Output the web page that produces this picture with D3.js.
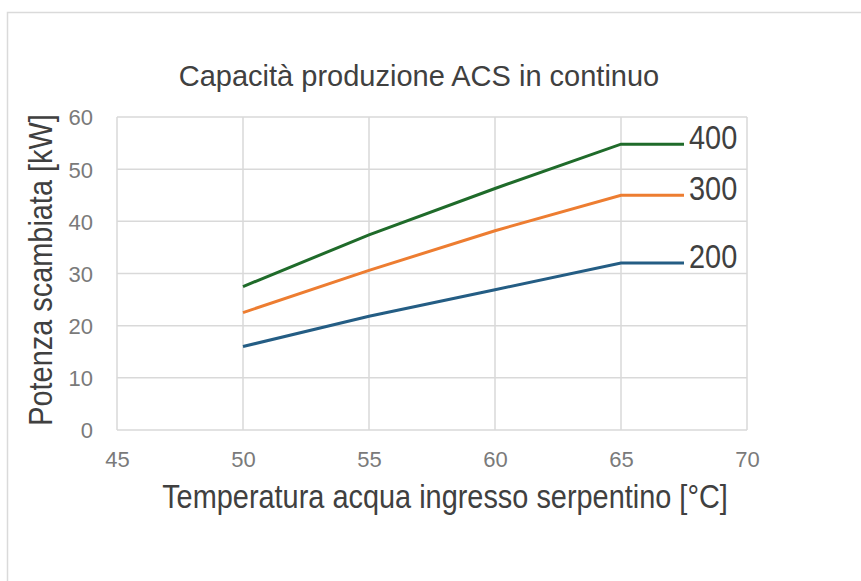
<!DOCTYPE html>
<html>
<head>
<meta charset="utf-8">
<script src="https://cdn.jsdelivr.net/npm/d3@7"></script>
<style>
  body { margin: 0; background: #fff; }
  svg { display: block; }
</style>
</head>
<body>
<script>
const width = 861
const height = 581

// data
const temps = [50, 55, 60, 65, 67.5]
const series = [
  { name: '400', color: '#1f6b2a', values: [27.5, 37.4, 46.3, 54.8, 54.8] },
  { name: '300', color: '#ed7d31', values: [22.5, 30.6, 38.2, 45.0, 45.0] },
  { name: '200', color: '#245d84', values: [16.0, 21.8, 26.9, 32.0, 32.0] }
]
const xTicks = [45, 50, 55, 60, 65, 70]
const yTicks = [0, 10, 20, 30, 40, 50, 60]

const font = '"Liberation Sans", Arial, sans-serif'
const squeeze = 0.85   // the reference uses a condensed face for these

let svg = d3.select('body').append('svg')
    .attr('width', width)
    .attr('height', height)

// card frame
svg.append('path')
    .attr('d', 'M7.5 581 L7.5 12.5 L861 12.5')
    .attr('fill', 'none')
    .attr('stroke', '#dadada')
    .attr('stroke-width', 1.5)

let x = d3.scaleLinear().domain([45, 70]).range([117, 747])
let y = d3.scaleLinear().domain([0, 60]).range([430, 117])

// GRID
let grid = svg.append('g')
grid.selectAll('.vg').data(xTicks).enter().append('line')
    .attr('x1', d => x(d)).attr('x2', d => x(d))
    .attr('y1', y(0)).attr('y2', y(60))
    .attr('stroke', '#d9d9d9').attr('stroke-width', 1.5)
grid.selectAll('.hg').data(yTicks).enter().append('line')
    .attr('x1', x(45)).attr('x2', x(70))
    .attr('y1', d => y(d)).attr('y2', d => y(d))
    .attr('stroke', '#d9d9d9').attr('stroke-width', 1.5)
// GRID

// AXES
let xAxis = svg.append('g')
    .attr('transform', `translate(0,${y(0)})`)
    .call(d3.axisBottom(x).tickValues(xTicks).tickSize(0).tickPadding(37))
let yAxis = svg.append('g')
    .attr('transform', `translate(${x(45)},0)`)
    .call(d3.axisLeft(y).tickValues(yTicks).tickSize(0).tickPadding(24))
;[xAxis, yAxis].forEach(a => {
    a.select('.domain').remove()
    a.selectAll('text')
        .attr('fill', '#7a7a7a')
        .style('font-family', font)
        .style('font-size', '22px')
})
xAxis.selectAll('text').attr('dy', 0)
yAxis.selectAll('text').attr('dy', '0.36em')
// AXES

// LINES
let line = d3.line()
    .x((d, i) => x(temps[i]))
    .y(d => y(d))

svg.selectAll('.series').data(series).enter().append('path')
    .attr('d', d => line(d.values))
    .attr('fill', 'none')
    .attr('stroke', d => d.color)
    .attr('stroke-width', 3)

svg.selectAll('.lbl').data(series).enter().append('text')
    .attr('transform', d => `translate(${x(temps[temps.length - 1]) + 5},${y(d.values[d.values.length - 1]) + 5}) scale(${squeeze},1)`)
    .text(d => d.name)
    .attr('fill', '#404040')
    .style('font-family', font)
    .style('font-size', '34px')
// LINES

// TITLES
svg.append('text')
    .attr('x', 419).attr('y', 86)
    .attr('text-anchor', 'middle')
    .attr('fill', '#404040')
    .style('font-family', font)
    .style('font-size', '29px')
    .text('Capacità produzione ACS in continuo')

svg.append('text')
    .attr('transform', `translate(445,508) scale(${squeeze},1)`)
    .attr('text-anchor', 'middle')
    .attr('fill', '#404040')
    .style('font-family', font)
    .style('font-size', '34px')
    .text('Temperatura acqua ingresso serpentino [°C]')

svg.append('text')
    .attr('transform', `translate(52,270) rotate(-90) scale(${squeeze},1)`)
    .attr('text-anchor', 'middle')
    .attr('fill', '#404040')
    .style('font-family', font)
    .style('font-size', '34px')
    .text('Potenza scambiata [kW]')
// TITLES
</script>
</body>
</html>
